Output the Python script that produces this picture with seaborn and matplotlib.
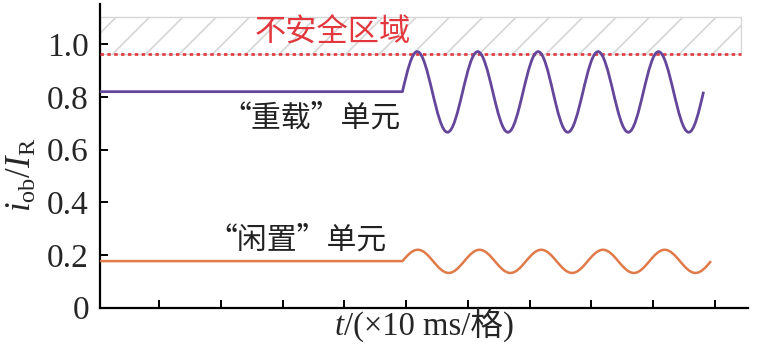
import matplotlib
matplotlib.use("Agg")
import matplotlib.pyplot as plt
import seaborn as sns
from matplotlib.path import Path
from matplotlib.patches import PathPatch, Rectangle

# values (time in 10 ms grid units, current in p.u.)
heavy_t = [0.04, 4.94, 5.18, 5.67, 6.16, 6.65, 7.14, 7.62, 8.11, 8.60, 9.09, 9.58, 9.82]
heavy_v = [0.820, 0.820, 0.972, 0.666, 0.972, 0.666, 0.972, 0.666, 0.972, 0.666, 0.972, 0.666, 0.820]
idle_t = [0.04, 4.94, 5.19, 5.69, 6.19, 6.69, 7.19, 7.69, 8.19, 8.69, 9.19, 9.69, 9.94]
idle_v = [0.177, 0.177, 0.220, 0.132, 0.220, 0.132, 0.220, 0.132, 0.220, 0.132, 0.220, 0.132, 0.177]
limit_t = [0.04, 10.42]
limit_v = [0.962, 0.962]
unsafe_top = 1.105
x_ticks = [1, 2, 3, 4, 5, 6, 7, 8, 9, 10]
y_ticks = [0, 0.2, 0.4, 0.6, 0.8, 1.0]
y_ticklabels = ["0", "0.2", "0.4", "0.6", "0.8", "1.0"]

sns.set_style("ticks")
plt.rcParams["font.family"] = ["Liberation Serif", "Noto Sans CJK SC"]
plt.rcParams["mathtext.fontset"] = "custom"
plt.rcParams["mathtext.rm"] = "Liberation Serif"
plt.rcParams["mathtext.it"] = "Liberation Serif:italic"
plt.rcParams["hatch.color"] = "#d2d2d2"
plt.rcParams["hatch.linewidth"] = 1.2

purple = "#64469b"
orange = "#e07a48"
red = "#e2373c"


def wave_path(ts, vs):
    # flat lead-in, then smooth segments through the read extremes
    verts = [(ts[0], vs[0]), (ts[1], vs[1])]
    codes = [Path.MOVETO, Path.LINETO]
    n = len(ts)
    for i in range(1, n - 1):
        x0, y0 = ts[i], vs[i]
        dx, dy = ts[i + 1] - x0, vs[i + 1] - y0
        if i == 1:
            c1 = (x0 + 0.3261 * dx, y0 + 0.5123 * dy)
            c2 = (x0 + 0.6381 * dx, y0 + dy)
        elif i == n - 2:
            c1 = (x0 + 0.3619 * dx, y0)
            c2 = (x0 + 0.6739 * dx, y0 + 0.4877 * dy)
        else:
            c1 = (x0 + 0.3642 * dx, y0)
            c2 = (x0 + 0.6358 * dx, y0 + dy)
        verts += [c1, c2, (ts[i + 1], vs[i + 1])]
        codes += [Path.CURVE4] * 3
    return Path(verts, codes)


fig = plt.figure(figsize=(7.59, 3.57), dpi=100)
ax = fig.add_axes([0.1318, 0.138, 0.8537, 0.851])

# unsafe zone
ax.add_patch(Rectangle((limit_t[0], limit_v[0]), limit_t[1] - limit_t[0], unsafe_top - limit_v[0],
                       facecolor="none", edgecolor="#d6d6d6", hatch="/", lw=1.0, zorder=1))
sns.lineplot(x=limit_t, y=limit_v, ax=ax, color=red, lw=1.9, dashes=False, zorder=3)
ax.lines[-1].set_dashes((1.3, 1.3))

ax.add_patch(PathPatch(wave_path(heavy_t, heavy_v), fill=False, edgecolor=purple, lw=2.0,
                       capstyle="butt", joinstyle="round", zorder=4))
ax.add_patch(PathPatch(wave_path(idle_t, idle_v), fill=False, edgecolor=orange, lw=1.8,
                       capstyle="butt", joinstyle="round", zorder=4))

ax.text(2.55, 1.043, "不安全区域", color=red, fontsize=22.5, va="center", ha="left",
        family=["Noto Sans CJK SC"])
ax.text(2.01, 0.72, "“重载”单元", color="#222222", fontsize=21.5, va="center", ha="left",
        family=["Noto Sans CJK SC"])
ax.text(1.78, 0.257, "“闲置”单元", color="#222222", fontsize=21.5, va="center", ha="left",
        family=["Noto Sans CJK SC"])

ax.set_xlim(0.04, 10.54)
ax.set_ylim(0, 1.153)
ax.set_xticks(x_ticks)
ax.set_xticklabels([])
ax.set_yticks(y_ticks)
ax.set_yticklabels(y_ticklabels, fontsize=24)
ax.tick_params(direction="in", length=6, width=1.4, color="black", pad=8)
for s in ["left", "bottom"]:
    ax.spines[s].set_linewidth(1.6)
    ax.spines[s].set_color("black")
sns.despine(ax=ax)

# axis labels
fig.text(22 / 759, 1 - 175 / 357, r"$i_{\mathrm{ob}}/I_{\mathrm{R}}$", rotation=90,
         fontsize=25, ha="center", va="center")
t_lab = fig.text(335 / 759, 1 - 342 / 357, "t", style="italic", fontsize=23.5, va="bottom", ha="left")
ax.annotate("/(×10 ms/格)", xy=(1, 0), xycoords=t_lab, va="bottom", ha="left", fontsize=23.5,
            family=["Liberation Serif", "Noto Sans CJK SC"], annotation_clip=False)

fig.savefig("out.png", dpi=100)
